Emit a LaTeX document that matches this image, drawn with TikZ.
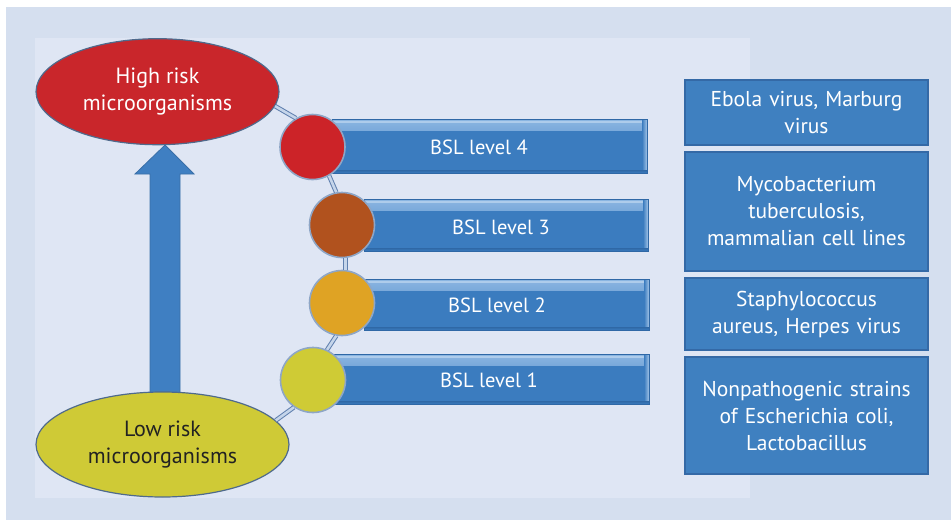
\documentclass[tikz,border=0pt]{standalone}
\usepackage{fontspec}
\setmainfont{PT Sans}
\usetikzlibrary{shapes.geometric}
\definecolor{bgouter}{HTML}{D5DFEF}
\definecolor{bginner}{HTML}{DFE6F4}
\definecolor{arrowc}{HTML}{3F7FC2}
\definecolor{arrowedge}{HTML}{3A6FA8}
\definecolor{highc}{HTML}{C9262B}
\definecolor{lowc}{HTML}{CFCA36}
\definecolor{ellipseedge}{HTML}{4F6A8C}
\definecolor{textdark}{HTML}{222222}
\definecolor{chainedge}{HTML}{5F7FAE}
\definecolor{chaininner}{HTML}{C5D5EA}
\definecolor{barbase}{HTML}{3B7CBF}
\definecolor{barlight}{HTML}{8CB6E2}
\definecolor{bardark}{HTML}{2F68A6}
\definecolor{boxc}{HTML}{3F80C0}
\definecolor{boxedge}{HTML}{3469A6}
\definecolor{dotedge}{HTML}{8EA6C6}
\definecolor{cfour}{HTML}{CC2328}
\definecolor{cthree}{HTML}{B1521E}
\definecolor{ctwo}{HTML}{DFA324}
\definecolor{cone}{HTML}{CFCB35}
\tikzset{
  risk/.style={ellipse, draw=ellipseedge, line width=1.2pt, minimum width=243pt,
    minimum height=106pt, inner sep=0pt, align=center,
    font=\fontsize{22}{26.5}\selectfont},
  bar/.style={rectangle, draw=bardark, line width=0.6pt, minimum width=313pt,
    minimum height=54pt, inner sep=0pt, fill=barbase,
    path picture={
      \shade[top color=barlight, bottom color=barbase]
        (path picture bounding box.north west) rectangle
        ([yshift=-11pt]path picture bounding box.north east);
      \fill[barlight!70!white]
        ([yshift=-2pt]path picture bounding box.north west) rectangle
        ([yshift=-3.5pt]path picture bounding box.north east);
      \shade[left color=barbase, right color=barlight!80!white]
        ([xshift=-5pt]path picture bounding box.north east) rectangle
        (path picture bounding box.south east);
      \shade[top color=bardark, bottom color=barbase]
        (path picture bounding box.south west) rectangle
        ([yshift=3pt]path picture bounding box.south east);
    }},
  bartext/.style={text=white, inner sep=0pt, font=\fontsize{20.5}{24}\selectfont},
  dot/.style={circle, draw=dotedge, line width=1.6pt, minimum size=65pt, inner sep=0pt},
  chain/.style={draw=chainedge, line width=1pt, double=chaininner, double distance=2.6pt},
  infobox/.style={rectangle, draw=boxedge, line width=1.5pt, fill=boxc,
    minimum width=243pt, text width=236pt, align=center, inner sep=0pt,
    text=white, font=\fontsize{21.5}{27}\selectfont},
}
\begin{document}
\begin{tikzpicture}[x=1pt,y=-1pt]
\useasboundingbox (0,0) rectangle (951,522);
\fill[white] (0,0) rectangle (951,522);
\fill[bgouter] (6,7) rectangle (951,520);
\fill[bginner] (35,38) rectangle (750,498);

% upward block arrow
\filldraw[fill=arrowc, draw=arrowedge, line width=0.8pt]
  (150,400) -- (150,174) -- (135,174) -- (165,145) -- (194,174)
  -- (180,174) -- (180,400) -- cycle;

% risk ellipses
\node[risk, fill=highc, text=white] (high) at (157.5,91.7) {High risk\\microorganisms};
\node[risk, fill=lowc, text=textdark, minimum width=253pt, minimum height=105pt] (low) at (162.5,444.5) {Low risk\\microorganisms};

% BSL bars
\node[bar, minimum width=315pt] (b4) at (489.5,146) {};
\node[bar, minimum width=284pt, minimum height=52pt] (b3) at (506,225) {};
\node[bar, minimum width=285pt, minimum height=51pt] (b2) at (506.5,304.5) {};
\node[bar, minimum width=316pt, minimum height=50pt] (b1) at (491,379) {};
\node[bartext] (t4) at (479,147) {BSL level 4};
\node[bartext] (t3) at (501,227) {BSL level 3};
\node[bartext] (t2) at (497,305) {BSL level 2};
\node[bartext] (t1) at (489,380) {BSL level 1};

% circles
\node[dot, fill=cfour] (c4) at (312.5,147) {};
\node[dot, fill=cthree] (c3) at (342,225) {};
\node[dot, fill=ctwo] (c2) at (342,303) {};
\node[dot, fill=cone] (c1) at (313,380) {};

% chain connectors
\draw[chain] (high.-7) -- (c4.120);
\draw[chain] (c4.-60) -- (c3.100);
\draw[chain] (c3.-84) -- (c2.84);
\draw[chain] (c2.-100) -- (c1.65);
\draw[chain] (c1.-125) -- (low.12);

% example boxes
\node[infobox, minimum height=65pt] (e1) at (806.5,112.5) {Ebola virus, Marburg\\virus};
\node[infobox, minimum height=119pt] (e2) at (806.5,211.5) {Mycobacterium\\tuberculosis,\\mammalian cell lines};
\node[infobox, minimum height=72pt] (e3) at (806.5,314) {Staphylococcus\\aureus, Herpes virus};
\node[infobox, minimum height=117pt] (e4) at (806.5,415.5) {Nonpathogenic strains\\of Escherichia coli,\\Lactobacillus};
\end{tikzpicture}
\end{document}
